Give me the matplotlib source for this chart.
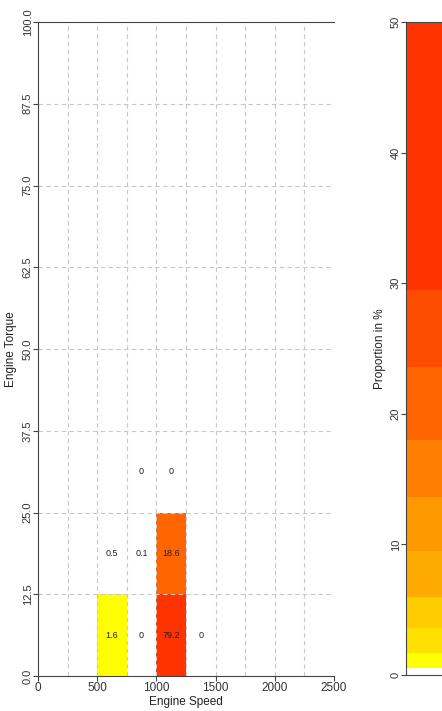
import matplotlib.pyplot as plt
import numpy as np
from matplotlib.colors import ListedColormap, BoundaryNorm

plt.rcParams['font.family'] = ['Liberation Sans', 'DejaVu Sans']

# bin edges
speed_edges = np.arange(0, 2501, 250)
torque_edges = np.arange(0, 100.1, 12.5)

# cells with data: (speed bin centre, torque bin centre, proportion %)
cell_speed = [625, 875, 1125, 1375, 625, 875, 1125, 875, 1125]
cell_torque = [6.25, 6.25, 6.25, 6.25, 18.75, 18.75, 18.75, 31.25, 31.25]
cell_value = [1.6, 0, 79.2, 0, 0.5, 0.1, 18.6, 0, 0]
cell_text = ['1.6', '0', '79.2', '0', '0.5', '0.1', '18.6', '0', '0']

# colour classes of the legend bar
breaks = [0, 0.55, 1.65, 3.6, 6.0, 9.5, 13.6, 18.0, 23.6, 29.5, 50]
colors = ['#FFFFFF', '#FFFF00', '#FFE000', '#FFCC00', '#FFAA00', '#FF9900',
          '#FF8000', '#FF6600', '#FF4D00', '#FF3300']

W, H = 442, 711
fig = plt.figure(figsize=(W / 100, H / 100), dpi=100)
ax = fig.add_axes([38 / W, (H - 676) / H, (334 - 38) / W, (676 - 22) / H])
cax = fig.add_axes([406 / W, (H - 675) / H, 60 / W, (675 - 22) / H])

grid = np.full((len(torque_edges) - 1, len(speed_edges) - 1), np.nan)
for s, t, v in zip(cell_speed, cell_torque, cell_value):
    grid[int(t // 12.5), int(s // 250)] = v

cmap = ListedColormap(colors[1:])
cmap.set_under('white')
cmap.set_over(colors[-1])
norm = BoundaryNorm(breaks[1:], cmap.N)
ax.pcolormesh(speed_edges, torque_edges, np.ma.masked_invalid(grid),
              cmap=cmap, norm=norm, zorder=1)

for s, t, txt in zip(cell_speed, cell_torque, cell_text):
    ax.text(s, t, txt, ha='center', va='center', fontsize=6.5,
            color='#222222', zorder=3)

for x in speed_edges[1:]:
    ax.axvline(x, color='#c8c8c8', ls=(0, (4, 3)), lw=0.8, zorder=2)
for y in torque_edges[1:-1]:
    ax.axhline(y, color='#c8c8c8', ls=(0, (4, 3)), lw=0.8, zorder=2)

ax.set_xlim(0, 2500)
ax.set_ylim(0, 100)
ax.set_xticks(np.arange(0, 2501, 500))
ax.set_yticks(torque_edges)
ax.set_yticklabels(['%.1f' % v for v in torque_edges], rotation=90, va='center')
ax.tick_params(labelsize=8.5, length=3.5, color='#444444', labelcolor='#333333', pad=1)
ax.tick_params(axis='y', labelsize=8, pad=0.3)
ax.spines['right'].set_visible(False)
for sp in ['left', 'bottom', 'top']:
    ax.spines[sp].set_color('#444444')
ax.set_xlabel('Engine Speed', fontsize=8.5, labelpad=1, color='#222222')
ax.set_ylabel('Engine Torque', fontsize=8.5, color='#222222')
ax.yaxis.set_label_coords(-0.07, 0.5)

# legend bar
cax.bar(0, np.diff(breaks), bottom=breaks[:-1], width=1, color=colors,
        align='edge', linewidth=0)
cax.set_xlim(0, 1)
cax.set_ylim(0, 50)
cax.set_xticks([])
cax.set_yticks(np.arange(0, 51, 10))
cax.set_yticklabels([str(v) for v in range(0, 51, 10)], rotation=90, va='center')
cax.tick_params(labelsize=8, length=3.5, color='#444444', labelcolor='#333333', pad=0.3)
cax.spines['right'].set_visible(False)
for sp in ['left', 'bottom', 'top']:
    cax.spines[sp].set_color('#444444')
cax.set_ylabel('Proportion in %', fontsize=8.5, color='#222222')
cax.yaxis.set_label_coords(-0.33, 0.5)

fig.savefig('out.png', dpi=100)
